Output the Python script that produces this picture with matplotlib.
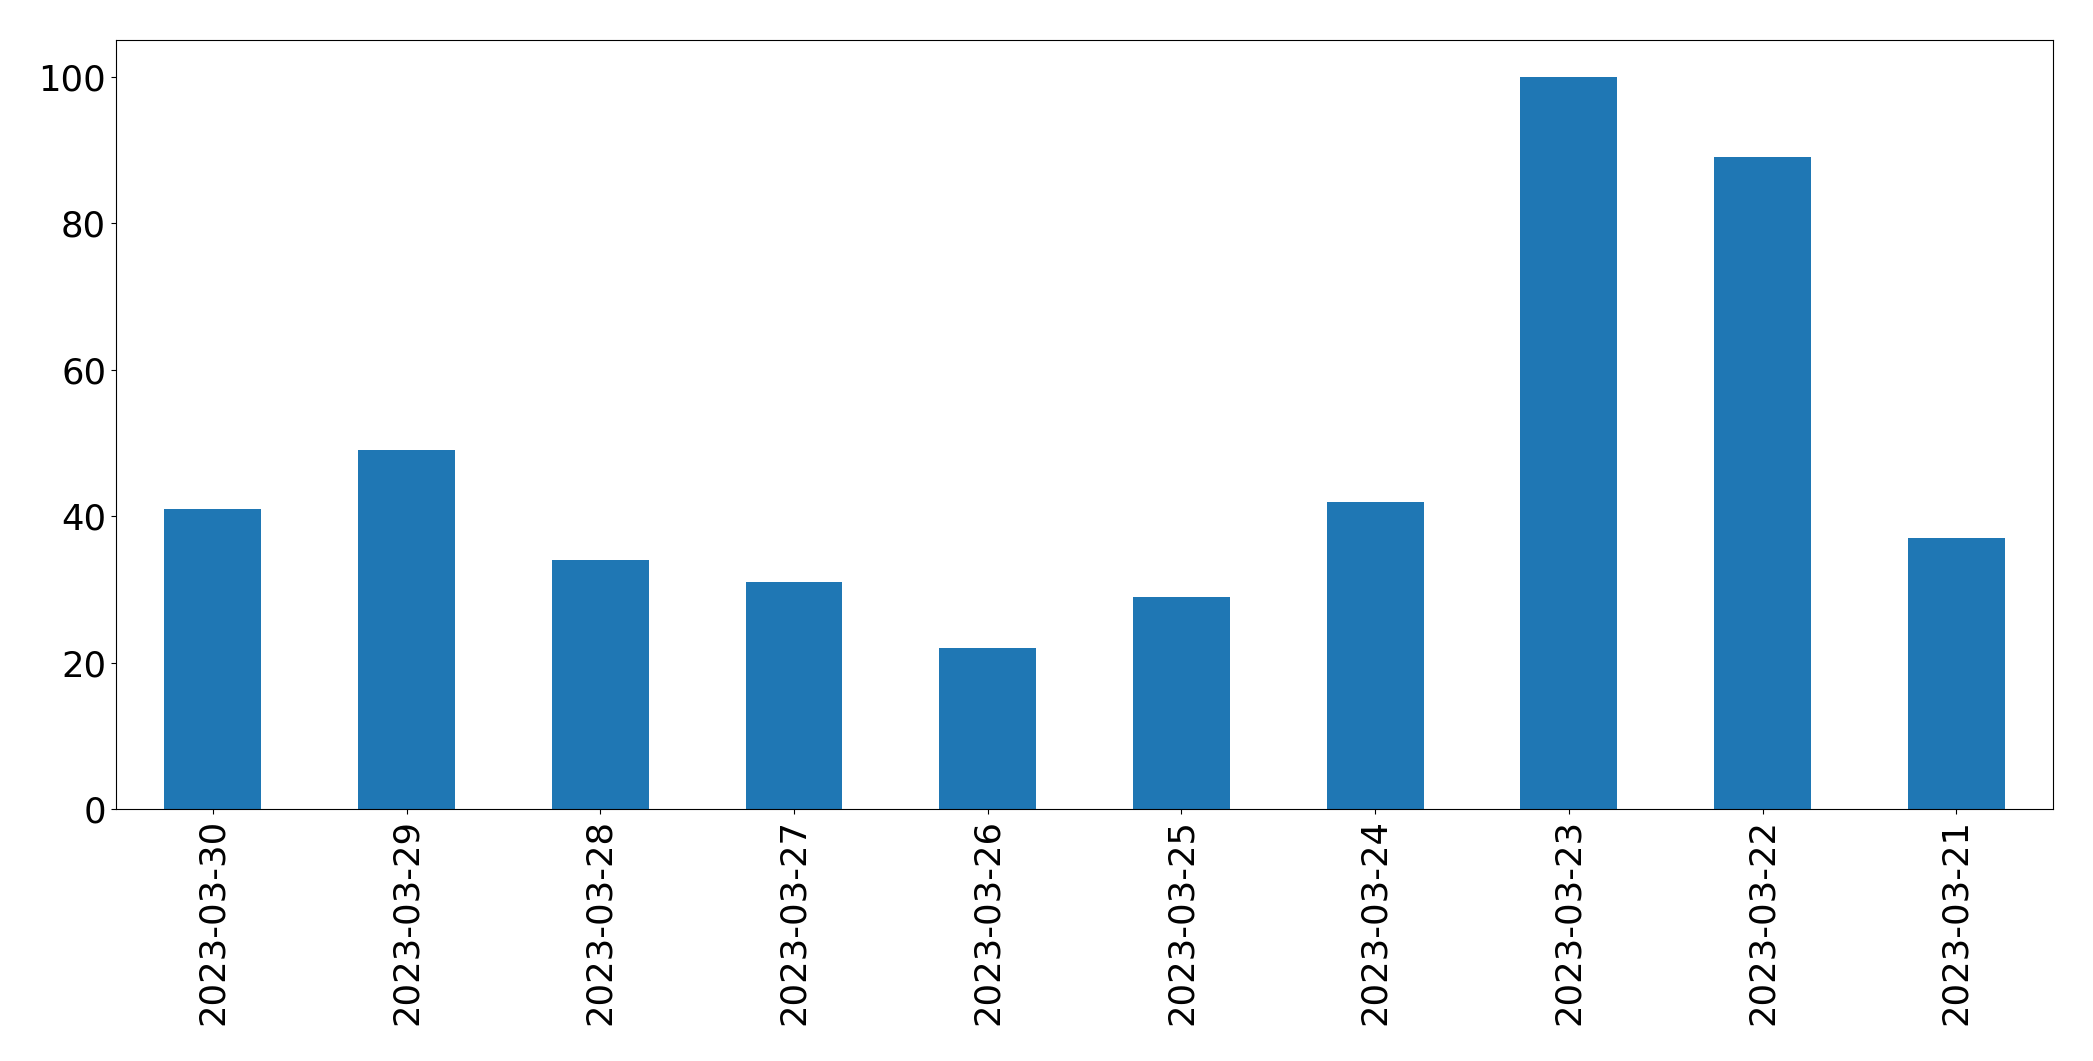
import matplotlib
matplotlib.use("Agg")
import matplotlib.pyplot as plt
import numpy as np

dates = ["2023-03-30", "2023-03-29", "2023-03-28", "2023-03-27", "2023-03-26",
         "2023-03-25", "2023-03-24", "2023-03-23", "2023-03-22", "2023-03-21"]
counts = [41, 49, 34, 31, 22, 29, 42, 100, 89, 37]

fig = plt.figure(figsize=(20.93, 10.61), dpi=100)
ax = fig.add_axes([0.0554, 0.2375, 0.9256, 0.7245])

x = np.arange(len(dates))
ax.bar(x, counts, width=0.5, color="#1f77b4")
ax.set_xlim(-0.5, len(dates) - 0.5)
ax.set_xticks(x)
ax.set_xticklabels(dates, rotation=90, fontsize=25.5)
ax.tick_params(axis="y", labelsize=25.5)
ax.set_yticks([0, 20, 40, 60, 80, 100])

fig.savefig("out.png", dpi=100)
